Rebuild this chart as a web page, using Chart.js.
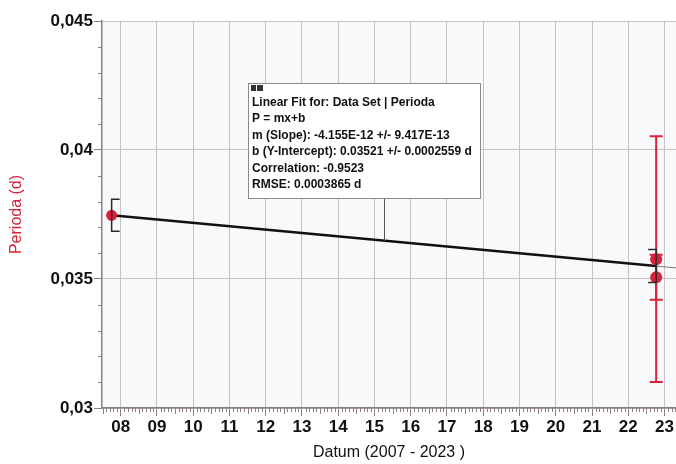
<!DOCTYPE html>
<html lang="cs">
<head>
<meta charset="UTF-8">
<title>Perioda</title>
<script src="https://cdn.jsdelivr.net/npm/chart.js"></script>
<style>
  body { margin: 0; background: #ffffff; }
  #obal { width: 676px; height: 464px; }
</style>
</head>
<body>
<div id="obal">
  <canvas id="graf" width="676" height="464"></canvas>
</div>
<script>
// osa x - roky (2007 - 2023)
const roky = [2008, 2009, 2010, 2011, 2012, 2013, 2014, 2015, 2016, 2017, 2018, 2019, 2020, 2021, 2022, 2023];
const rokyPopisky = ['08', '09', '10', '11', '12', '13', '14', '15', '16', '17', '18', '19', '20', '21', '22', '23'];

// osa y - perioda (d)
const periodaTicks = [0.03, 0.035, 0.04, 0.045];
const periodaPopisky = ['0,03', '0,035', '0,04', '0,045'];

// mereni (cervene body) + chyby
const mereniDatum = [2007.75, 2022.77, 2022.77];
const mereniPerioda = [0.03747, 0.03577, 0.03507];
const mereniChyba = [0, 0.00476, 0.00087];

// linearni fit
const fitDatum = [2007.75, 2022.77, 2023.32];
const fitPerioda = [0.03747, 0.03550, 0.03543];
// chyba fitu na koncich (cerne zavorky)
const fitChybaDatum = [2007.75, 2022.77];
const fitChybaStred = [0.03747, 0.03550];
const fitChyba = [0.00062, 0.00064];

const fitText = [
    'Linear Fit for: Data Set | Perioda',
    'P = mx+b',
    'm (Slope): -4.155E-12 +/- 9.417E-13',
    'b (Y-Intercept): 0.03521 +/- 0.0002559 d',
    'Correlation: -0.9523',
    'RMSE: 0.0003865 d'
];

const pismo = "'Liberation Sans', Arial, sans-serif";
const cervena = '#d8213a';
const mrizka = '#c9c0c0';
const osa = '#8a8080';

// pozadi grafu
const pozadi = {
    id: 'pozadi',
    beforeDraw(chart) {
        const { ctx, chartArea: a } = chart;
        ctx.save();
        ctx.fillStyle = '#ffffff';
        ctx.fillRect(0, 0, chart.width, chart.height);
        ctx.fillStyle = '#f8f9fb';
        ctx.fillRect(a.left, a.top, a.right - a.left, a.bottom - a.top);
        ctx.restore();
    }
};

// vedlejsi carky na osach (y po 0.001, x po desetinach roku)
const vedlejsiCarky = {
    id: 'vedlejsiCarky',
    afterDraw(chart) {
        const { ctx, chartArea: a } = chart;
        const sx = chart.scales.x, sy = chart.scales.y;
        ctx.save();
        ctx.strokeStyle = osa;
        ctx.lineWidth = 1;
        ctx.beginPath();
        for (let i = 1; i < 15; i++) {
            if (i % 5 === 0) continue;
            const y = Math.round(sy.getPixelForValue(0.03 + i * 0.001)) + 0.5;
            ctx.moveTo(a.left - 4, y);
            ctx.lineTo(a.left, y);
        }
        for (let i = 75; i <= 233; i++) {
            if (i % 10 === 0) continue;
            const x = Math.round(sx.getPixelForValue(2000 + i / 10)) + 0.5;
            if (x < a.left || x > a.right) continue;
            const d = (i % 5 === 0) ? 6 : 4;
            ctx.moveTo(x, a.bottom);
            ctx.lineTo(x, a.bottom + d);
        }
        ctx.stroke();
        ctx.restore();
    }
};

// chybove usecky
const chyby = {
    id: 'chyby',
    beforeDatasetsDraw(chart) {
        const { ctx } = chart;
        const sx = chart.scales.x, sy = chart.scales.y;
        ctx.save();
        ctx.strokeStyle = cervena;
        ctx.lineWidth = 2;
        for (let i = 0; i < mereniDatum.length; i++) {
            if (!mereniChyba[i]) continue;
            const x = sx.getPixelForValue(mereniDatum[i]);
            const y1 = sy.getPixelForValue(mereniPerioda[i] + mereniChyba[i]);
            const y2 = sy.getPixelForValue(mereniPerioda[i] - mereniChyba[i]);
            ctx.beginPath();
            ctx.moveTo(x, y1); ctx.lineTo(x, y2);
            ctx.moveTo(x - 6.5, y1); ctx.lineTo(x + 6.5, y1);
            ctx.moveTo(x - 6.5, y2); ctx.lineTo(x + 6.5, y2);
            ctx.stroke();
        }
        ctx.restore();
    },
    afterDatasetsDraw(chart) {
        const { ctx } = chart;
        const sx = chart.scales.x, sy = chart.scales.y;
        ctx.save();
        ctx.strokeStyle = '#2a2a2a';
        ctx.lineWidth = 1.5;
        for (let i = 0; i < fitChybaDatum.length; i++) {
            const x = sx.getPixelForValue(fitChybaDatum[i]);
            const y1 = sy.getPixelForValue(fitChybaStred[i] + fitChyba[i]);
            const y2 = sy.getPixelForValue(fitChybaStred[i] - fitChyba[i]);
            const s = i === 0 ? 8 : -8; // prvni otevrena doprava, posledni doleva
            ctx.beginPath();
            ctx.moveTo(x + s, y1); ctx.lineTo(x, y1); ctx.lineTo(x, y2); ctx.lineTo(x + s, y2);
            ctx.stroke();
        }
        ctx.restore();
    }
};

// ramecek s vysledkem fitu
const fitRamecek = {
    id: 'fitRamecek',
    afterDraw(chart) {
        const { ctx } = chart;
        const sx = chart.scales.x, sy = chart.scales.y;
        const bx = 248, by = 83, bh = 115;
        ctx.save();
        ctx.font = 'bold 12px ' + pismo;
        let w = 0;
        fitText.forEach(t => { w = Math.max(w, ctx.measureText(t).width); });
        const bw = Math.ceil(w) + 12;

        // spojnice k primce
        const cx = sx.getPixelForValue(2015.25);
        const p1x = sx.getPixelForValue(fitDatum[0]), p2x = sx.getPixelForValue(fitDatum[1]);
        const p1y = sy.getPixelForValue(fitPerioda[0]), p2y = sy.getPixelForValue(fitPerioda[1]);
        const cy = p1y + (p2y - p1y) * (cx - p1x) / (p2x - p1x);
        ctx.strokeStyle = '#555555';
        ctx.lineWidth = 1;
        ctx.beginPath();
        ctx.moveTo(Math.round(cx) + 0.5, by + bh);
        ctx.lineTo(Math.round(cx) + 0.5, cy);
        ctx.stroke();

        ctx.fillStyle = '#ffffff';
        ctx.fillRect(bx, by, bw, bh);
        ctx.strokeStyle = '#8a8a8a';
        ctx.strokeRect(bx + 0.5, by + 0.5, bw, bh);

        // ikonka
        ctx.fillStyle = '#333333';
        ctx.fillRect(bx + 3, by + 2, 5, 6);
        ctx.fillRect(bx + 9, by + 2, 6, 6);

        ctx.fillStyle = '#111111';
        ctx.textBaseline = 'middle';
        const radky = [103, 119, 135.5, 152, 168.5, 185];
        fitText.forEach((t, i) => ctx.fillText(t, bx + 4, radky[i]));
        ctx.restore();
    }
};

const ctx = document.getElementById('graf');

new Chart(ctx, {
    type: 'scatter',
    data: {
        datasets: [
            {
                label: 'Linear Fit',
                type: 'line',
                data: fitDatum.map((d, i) => ({ x: d, y: fitPerioda[i] })),
                borderColor: '#111111',
                borderWidth: 2.5,
                pointRadius: 0,
                fill: false,
                segment: {
                    borderColor: c => c.p0DataIndex === 1 ? '#7a7a7a' : '#111111',
                    borderWidth: c => c.p0DataIndex === 1 ? 1 : 2.5
                },
                order: 2
            },
            {
                label: 'Perioda',
                data: mereniDatum.map((d, i) => ({ x: d, y: mereniPerioda[i] })),
                backgroundColor: cervena,
                borderColor: cervena,
                pointRadius: [5.5, 6, 6],
                pointBorderWidth: 0,
                order: 1
            }
        ]
    },
    options: {
        responsive: false,
        animation: false,
        layout: { padding: { left: 0, top: 21, right: 0, bottom: 0 }, autoPadding: false },
        plugins: {
            legend: { display: false },
            tooltip: { enabled: false }
        },
        scales: {
            x: {
                type: 'linear',
                min: 2007.484,
                max: 2023.317,
                afterBuildTicks: s => { s.ticks = roky.map(v => ({ value: v })); },
                afterFit: s => { s.height = 56; },
                ticks: {
                    color: '#111111',
                    padding: 1,
                    font: { family: pismo, size: 17, weight: 'bold' },
                    maxRotation: 0,
                    autoSkip: false,
                    callback: (v, i) => rokyPopisky[i]
                },
                grid: { color: mrizka, tickColor: osa, tickLength: 8, lineWidth: 1 },
                border: { color: osa, width: 1.5 },
                title: {
                    display: true,
                    text: 'Datum (2007 - 2023 )',
                    color: '#111111',
                    font: { family: pismo, size: 16 },
                    padding: { top: 0, bottom: 2 }
                }
            },
            y: {
                min: 0.03,
                max: 0.045,
                afterBuildTicks: s => { s.ticks = periodaTicks.map(v => ({ value: v })); },
                afterFit: s => { s.width = 102; },
                ticks: {
                    color: '#111111',
                    padding: 1,
                    font: { family: pismo, size: 17, weight: 'bold' },
                    callback: (v, i) => periodaPopisky[i]
                },
                grid: { color: mrizka, tickColor: osa, tickLength: 8, lineWidth: 1 },
                border: { color: osa, width: 1.5 },
                title: {
                    display: true,
                    text: 'Perioda (d)',
                    color: cervena,
                    font: { family: pismo, size: 16 },
                    padding: { top: 7, bottom: 0 }
                }
            }
        }
    },
    plugins: [pozadi, chyby, vedlejsiCarky, fitRamecek]
});
</script>
</body>
</html>
